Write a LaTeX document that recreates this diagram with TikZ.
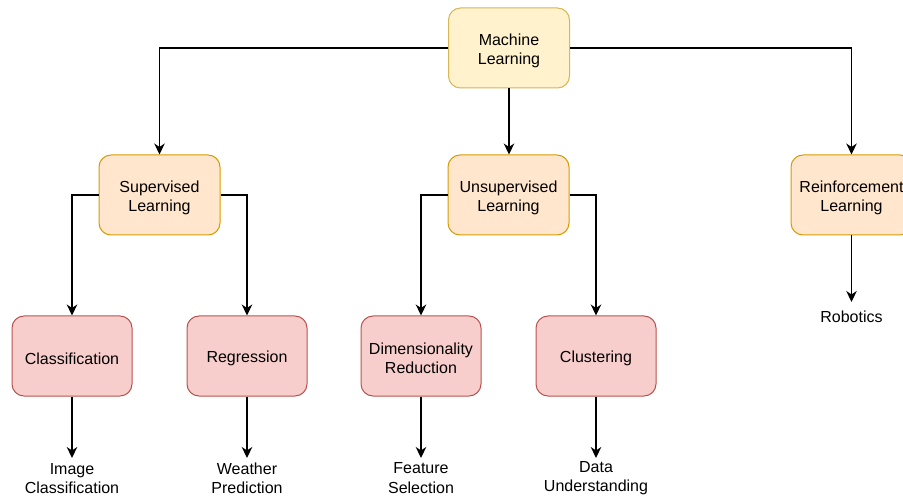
\documentclass[tikz,border=0pt]{standalone}
\usepackage{fontspec}
\setmainfont{Liberation Sans}
\usetikzlibrary{arrows.meta,positioning}
\definecolor{mlfill}{HTML}{FFF2CC}\definecolor{mldraw}{HTML}{D6B656}
\definecolor{orfill}{HTML}{FFE6CC}\definecolor{ordraw}{HTML}{D79B00}
\definecolor{rdfill}{HTML}{F8CECC}\definecolor{rddraw}{HTML}{B85450}
\begin{document}
\begin{tikzpicture}[x=1pt,y=-1pt,
  box/.style={rounded corners=12pt,minimum width=121pt,minimum height=80pt,align=center,inner sep=0pt,font=\fontsize{16}{19.3}\selectfont,line width=1pt,execute at begin node={\rule{0pt}{16.5pt}}},
  two/.style={execute at begin node={\rule{0pt}{36pt}}},
  topbox/.style={box,fill=mlfill,draw=mldraw},
  midbox/.style={box,fill=orfill,draw=ordraw},
  lowbox/.style={box,fill=rdfill,draw=rddraw,minimum width=120pt},
  leaf/.style={align=center,inner sep=0pt,font=\fontsize{16}{19.3}\selectfont},
  conn/.style={line width=1.2pt,-{Stealth[length=11pt,width=10.5pt,inset=3.5pt]}}]
\useasboundingbox (0,0) rectangle (903,497);
\clip (0,0) rectangle (903,497);
\node[topbox,two] (ml) at (509,48) {Machine\\Learning};
\node[midbox,two] (sup) at (159.5,195) {Supervised\\Learning};
\node[midbox,two] (uns) at (508.5,195) {Unsupervised\\Learning};
\node[midbox,two] (rei) at (851.5,195) {Reinforcement\\Learning};
\node[lowbox] (cla) at (72,356) {Classification};
\node[lowbox] (reg) at (247,356) {Regression};
\node[lowbox,two] (dim) at (421,356) {Dimensionality\\Reduction};
\node[lowbox] (clu) at (596,356) {Clustering};
\node[leaf] (l1) at (72,478.5) {Image\\Classification};
\node[leaf] (l2) at (247,478) {Weather\\Prediction};
\node[leaf] (l3) at (421,478) {Feature\\Selection};
\node[leaf] (l4) at (596,478.5) {Data\\Understanding};
\node[leaf] (l5) at (851.5,317) {Robotics};
\coordinate (t1) at (72,458);
\coordinate (t2) at (247,458);
\coordinate (t3) at (421,458);
\coordinate (t4) at (596,458);
\coordinate (t5) at (851.5,302);
\draw[conn] (ml.west) -| (sup.north);
\draw[conn] (ml.east) -| (rei.north);
\draw[conn] (ml.south) -- (ml.south |- uns.north);
\draw[conn] (sup.west) -| (cla.north);
\draw[conn] (sup.east) -| (reg.north);
\draw[conn] (uns.west) -| (dim.north);
\draw[conn] (uns.east) -| (clu.north);
\draw[conn] (cla.south) -- (t1);
\draw[conn] (reg.south) -- (t2);
\draw[conn] (dim.south) -- (t3);
\draw[conn] (clu.south) -- (t4);
\draw[conn] (rei.south) -- (t5);
\end{tikzpicture}
\end{document}
